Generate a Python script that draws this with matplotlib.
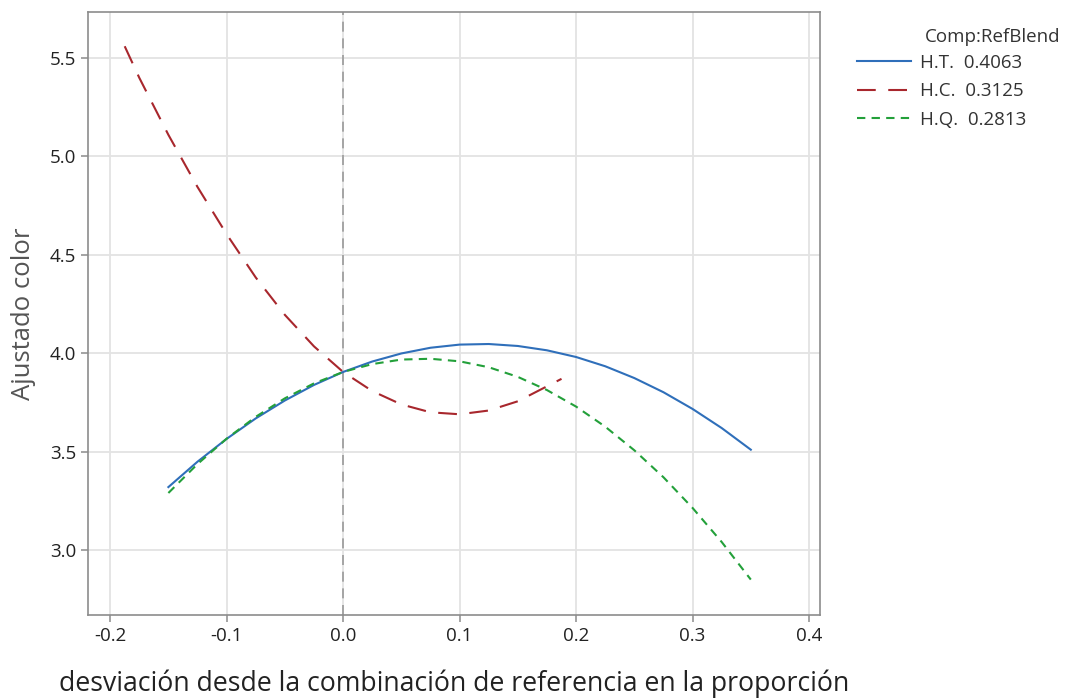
import matplotlib.pyplot as plt

# trayectorias de respuesta (Cox)
x_ht = [-0.15, -0.125, -0.1, -0.075, -0.05, -0.025, 0.0, 0.025, 0.05, 0.075, 0.1,
        0.125, 0.15, 0.175, 0.2, 0.225, 0.25, 0.275, 0.3, 0.325, 0.35]
y_ht = [3.32, 3.449, 3.565, 3.669, 3.760, 3.839, 3.905, 3.958, 3.999, 4.028, 4.044,
        4.047, 4.037, 4.015, 3.981, 3.934, 3.874, 3.802, 3.717, 3.620, 3.51]

x_hc = [-0.1875, -0.175, -0.15, -0.125, -0.1, -0.075, -0.05, -0.025, 0.0, 0.025,
        0.05, 0.075, 0.1, 0.125, 0.15, 0.175, 0.1875]
y_hc = [5.56, 5.40, 5.11, 4.845, 4.605, 4.385, 4.195, 4.035, 3.905, 3.808,
        3.740, 3.700, 3.690, 3.709, 3.756, 3.832, 3.87]

x_hq = [-0.15, -0.125, -0.1, -0.075, -0.05, -0.025, 0.0, 0.025, 0.05, 0.075, 0.1,
        0.125, 0.15, 0.175, 0.2, 0.225, 0.25, 0.275, 0.3, 0.325, 0.35]
y_hq = [3.29, 3.437, 3.566, 3.677, 3.771, 3.847, 3.905, 3.945, 3.968, 3.972, 3.959,
        3.929, 3.880, 3.813, 3.729, 3.627, 3.507, 3.370, 3.214, 3.041, 2.85]

labels = ['H.T.  0.4063', 'H.C.  0.3125', 'H.Q.  0.2813']
xticks = [-0.2, -0.1, 0.0, 0.1, 0.2, 0.3, 0.4]
yticks = [3.0, 3.5, 4.0, 4.5, 5.0, 5.5]

plt.rcParams['font.family'] = ['Open Sans', 'DejaVu Sans']

fig = plt.figure(figsize=(10.68, 6.98), dpi=100)
ax = fig.add_axes([0.0824, 0.1189, 0.6854, 0.8639])

ax.axvline(0, color='#9a9a9a', linestyle=(0, (6, 4)), linewidth=1.2, zorder=1)
l1, = ax.plot(x_ht, y_ht, color='#2f6fba', linewidth=1.5, zorder=3)
l2, = ax.plot(x_hc, y_hc, color='#a8272d', linewidth=1.5, linestyle=(0, (9, 6)), zorder=3)
l3, = ax.plot(x_hq, y_hq, color='#23a03a', linewidth=1.5, linestyle=(0, (4, 3)), zorder=3)

ax.set_xlim(-0.219, 0.4094)
ax.set_ylim(2.67, 5.734)
ax.set_xticks(xticks)
ax.set_xticklabels([f'{t:.1f}' for t in xticks])
ax.set_yticks(yticks)
ax.set_yticklabels([f'{t:.1f}' for t in yticks])
ax.grid(True, color='#e3e3e3', linewidth=1.3, zorder=0)
ax.set_axisbelow(True)

for s in ax.spines.values():
    s.set_color('#8c8c8c')
    s.set_linewidth(1.2)
ax.tick_params(colors='#8c8c8c', labelcolor='#222222', labelsize=13.5, length=5, width=1.1)

ax.set_xlabel('desviación desde la combinación de referencia en la proporción',
              fontsize=19.2, color='#222222', labelpad=18)
ax.set_ylabel('Ajustado color', fontsize=18.5, color='#555555', labelpad=10)

fig.text(0.866, 0.947, 'Comp:RefBlend', fontsize=13.5, color='#333333', va='center')
ax.legend([l1, l2, l3], labels, loc='upper left', bbox_to_anchor=(0.7935, 0.936),
          bbox_transform=fig.transFigure, frameon=False, fontsize=13.5, borderpad=0,
          handlelength=2.9, handletextpad=0.45, labelspacing=0.55, labelcolor='#333333')

fig.savefig('out.png', dpi=100)
